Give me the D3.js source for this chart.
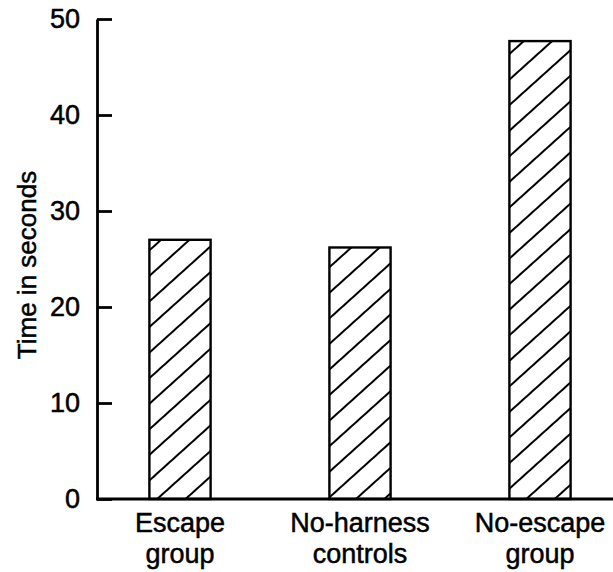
<!DOCTYPE html>
<html>
<head>
<meta charset="utf-8">
<script src="https://cdn.jsdelivr.net/npm/d3@7"></script>
<style>
  body { margin: 0; background: #fff; }
  text { font-family: "Liberation Sans", Arial, sans-serif; fill: #000; stroke: #000; stroke-width: 0.5px; }
</style>
</head>
<body>
<svg id="chart" width="613" height="572"></svg>
<script>
// values
const groups = ['Escape group', 'No-harness controls', 'No-escape group'];
const groupLines = [['Escape', 'group'], ['No-harness', 'controls'], ['No-escape', 'group']];
const seconds = [27, 26.2, 47.7];
const yTicks = [0, 10, 20, 30, 40, 50];

const svg = d3.select('#chart');

const y = d3.scaleLinear().domain([0, 50]).range([499, 19]);
const x = d3.scaleBand()
  .domain(groups)
  .range([90, 630])
  .paddingInner(0.66)
  .paddingOuter(0.33);

// hatch fill
const defs = svg.append('defs');
defs.append('pattern')
  .attr('id', 'hatch')
  .attr('patternUnits', 'userSpaceOnUse')
  .attr('width', 40)
  .attr('height', 19)
  .attr('patternTransform', 'rotate(-42)')
  .append('line')
  .attr('x1', 0).attr('y1', 1)
  .attr('x2', 40).attr('y2', 1)
  .attr('stroke', '#000')
  .attr('stroke-width', 2);

// bars
svg.selectAll('rect.bar')
  .data(seconds)
  .enter()
  .append('rect')
  .attr('class', 'bar')
  .attr('x', (d, i) => x(groups[i]))
  .attr('width', x.bandwidth())
  .attr('y', (d) => y(d))
  .attr('height', (d) => y(0) - y(d))
  .attr('fill', 'url(#hatch)')
  .attr('stroke', '#000')
  .attr('stroke-width', 2.4);

// y axis, ticks pointing inward
const yAxis = svg.append('g')
  .attr('transform', 'translate(97,0)')
  .call(d3.axisLeft(y).tickValues(yTicks).tickSizeInner(-15).tickSizeOuter(0).tickPadding(17));
yAxis.select('.domain').attr('stroke', '#000').attr('stroke-width', 2.8);
yAxis.selectAll('.tick line').attr('stroke', '#000').attr('stroke-width', 2.8);
yAxis.selectAll('.tick text')
  .style('font-size', '27px')
  .style('font-family', '"Liberation Sans", Arial, sans-serif')
  .attr('fill', '#000');

// baseline
svg.append('line')
  .attr('x1', 96).attr('x2', 613)
  .attr('y1', y(0)).attr('y2', y(0))
  .attr('stroke', '#000')
  .attr('stroke-width', 2.8);

// category labels
const labels = svg.selectAll('text.cat')
  .data(groupLines)
  .enter()
  .append('text')
  .attr('class', 'cat')
  .attr('text-anchor', 'middle')
  .style('font-size', '27px');
labels.selectAll('tspan')
  .data((d, i) => d.map((line) => ({ line, i })))
  .enter()
  .append('tspan')
  .attr('x', (d) => x(groups[d.i]) + x.bandwidth() / 2)
  .attr('y', (d, j) => 532 + j * 31)
  .text((d) => d.line);

// y axis title
svg.append('text')
  .attr('transform', 'translate(36,265) rotate(-90)')
  .attr('text-anchor', 'middle')
  .style('font-size', '26px')
  .text('Time in seconds');
</script>
</body>
</html>
